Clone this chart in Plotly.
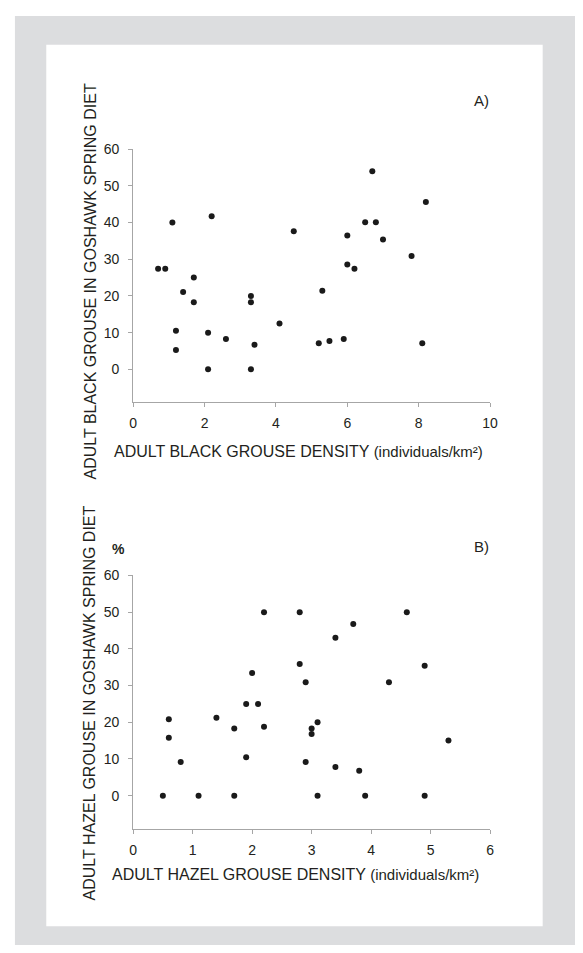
import plotly.graph_objects as go

# Page is 583x953; the default 8px body margin is kept, so the figure is
# sized to fit inside it and page coordinates are shifted by 8px.
PAGE_OFF = 8
W, H = 575, 937

# Panel A: adult black grouse
black_density = [0.7, 0.9, 1.1, 1.2, 1.2, 1.4, 1.7, 1.7, 2.1, 2.1, 2.2, 2.6, 3.3, 3.3, 3.3, 3.4,
                 4.1, 4.5, 5.2, 5.3, 5.5, 5.9, 6.0, 6.0, 6.2, 6.5, 6.7, 6.8, 7.0, 7.8, 8.1, 8.2]
black_diet = [27.4, 27.4, 40.0, 10.5, 5.3, 21.1, 25.0, 18.3, 10.0, 0.0, 41.7, 8.3, 20.0, 18.3, 0.0, 6.7,
              12.5, 37.6, 7.1, 21.4, 7.7, 8.3, 36.5, 28.6, 27.4, 40.1, 54.0, 40.1, 35.4, 30.9, 7.1, 45.6]

# Panel B: adult hazel grouse
hazel_density = [0.5, 0.6, 0.6, 0.8, 1.1, 1.4, 1.7, 1.7, 1.9, 1.9, 2.0, 2.1, 2.2, 2.2, 2.8, 2.8,
                 2.9, 2.9, 3.0, 3.0, 3.1, 3.1, 3.4, 3.4, 3.7, 3.8, 3.9, 4.3, 4.6, 4.9, 4.9, 5.3]
hazel_diet = [0.0, 20.8, 15.8, 9.2, 0.0, 21.2, 18.3, 0.0, 25.0, 10.5, 33.4, 25.0, 50.0, 18.8, 50.0, 35.9,
              30.9, 9.2, 18.3, 16.8, 20.0, 0.0, 43.0, 7.8, 46.8, 6.8, 0.0, 30.9, 50.0, 35.4, 0.0, 15.0]

y_ticks = [0, 10, 20, 30, 40, 50, 60]
xa_ticks = [0, 2, 4, 6, 8, 10]
xb_ticks = [0, 1, 2, 3, 4, 5, 6]

FONT = "Arial, 'Liberation Sans', sans-serif"
TXT = "#231f20"
AX = "#a6a6a6"
GRAY = "#dcdddf"


def px(x):
    return (x - PAGE_OFF) / W


def py(y):
    return (H - (y - PAGE_OFF)) / H


fig = go.Figure()
mk = dict(size=6, color="#1a1a1a")
fig.add_trace(go.Scatter(x=black_density, y=black_diet, mode="markers", marker=mk,
                         xaxis="x", yaxis="y", showlegend=False, hoverinfo="skip"))
fig.add_trace(go.Scatter(x=hazel_density, y=hazel_diet, mode="markers", marker=mk,
                         xaxis="x2", yaxis="y2", showlegend=False, hoverinfo="skip"))

xdom = [px(131.7), px(496.3)]
axcommon = dict(showline=True, linecolor=AX, linewidth=1, ticks="outside", ticklen=4,
                tickcolor=AX, showgrid=False, zeroline=False,
                tickfont=dict(family=FONT, size=14, color=TXT))

fig.update_layout(
    width=W, height=H,
    margin=dict(l=0, r=0, t=0, b=0),
    paper_bgcolor="white", plot_bgcolor="rgba(0,0,0,0)",
    xaxis=dict(domain=xdom, range=[0, 10], tickvals=xa_ticks, anchor="y",
               ticklabelstandoff=4, **axcommon),
    yaxis=dict(domain=[py(397.7), py(142.3)], range=[-9, 60], tickvals=y_ticks, anchor="x",
               ticklabelstandoff=6, **axcommon),
    xaxis2=dict(domain=xdom, range=[0, 6], tickvals=xb_ticks, anchor="y2",
                ticklabelstandoff=4, **axcommon),
    yaxis2=dict(domain=[py(827.7), py(572.3)], range=[-9, 60], tickvals=y_ticks, anchor="x2",
                ticklabelstandoff=6, **axcommon),
    shapes=[
        dict(type="rect", xref="paper", yref="paper", x0=px(11), x1=1, y0=0, y1=1,
             fillcolor=GRAY, line=dict(width=0), layer="below"),
        dict(type="rect", xref="paper", yref="paper", x0=px(43), x1=px(550), y0=py(926), y1=py(37),
             fillcolor="white", line=dict(width=0), layer="below"),
    ],
)


def ann(text, x, y, size=16, xanchor="center", yanchor="middle", angle=0):
    fig.add_annotation(text=text, x=px(x), y=py(y), xref="paper", yref="paper",
                       showarrow=False, xanchor=xanchor, yanchor=yanchor, textangle=angle,
                       font=dict(family=FONT, size=size, color=TXT))


ann("ADULT BLACK GROUSE IN GOSHAWK SPRING DIET", 88, 275.5, angle=-90)
ann("ADULT HAZEL GROUSE IN GOSHAWK SPRING DIET", 87, 701, angle=-90)
ann("ADULT BLACK GROUSE DENSITY <span style='font-size:15px'>(individuals/km²)</span>",
    110, 447, xanchor="left")
ann("ADULT HAZEL GROUSE DENSITY <span style='font-size:15px'>(individuals/km²)</span>",
    108, 874, xanchor="left")
ann("A)", 487, 93, size=15)
ann("B)", 488, 543, size=15)
ann("<b>%</b>", 117, 546, size=14)

fig.write_html("out.html", config={"displayModeBar": False})
